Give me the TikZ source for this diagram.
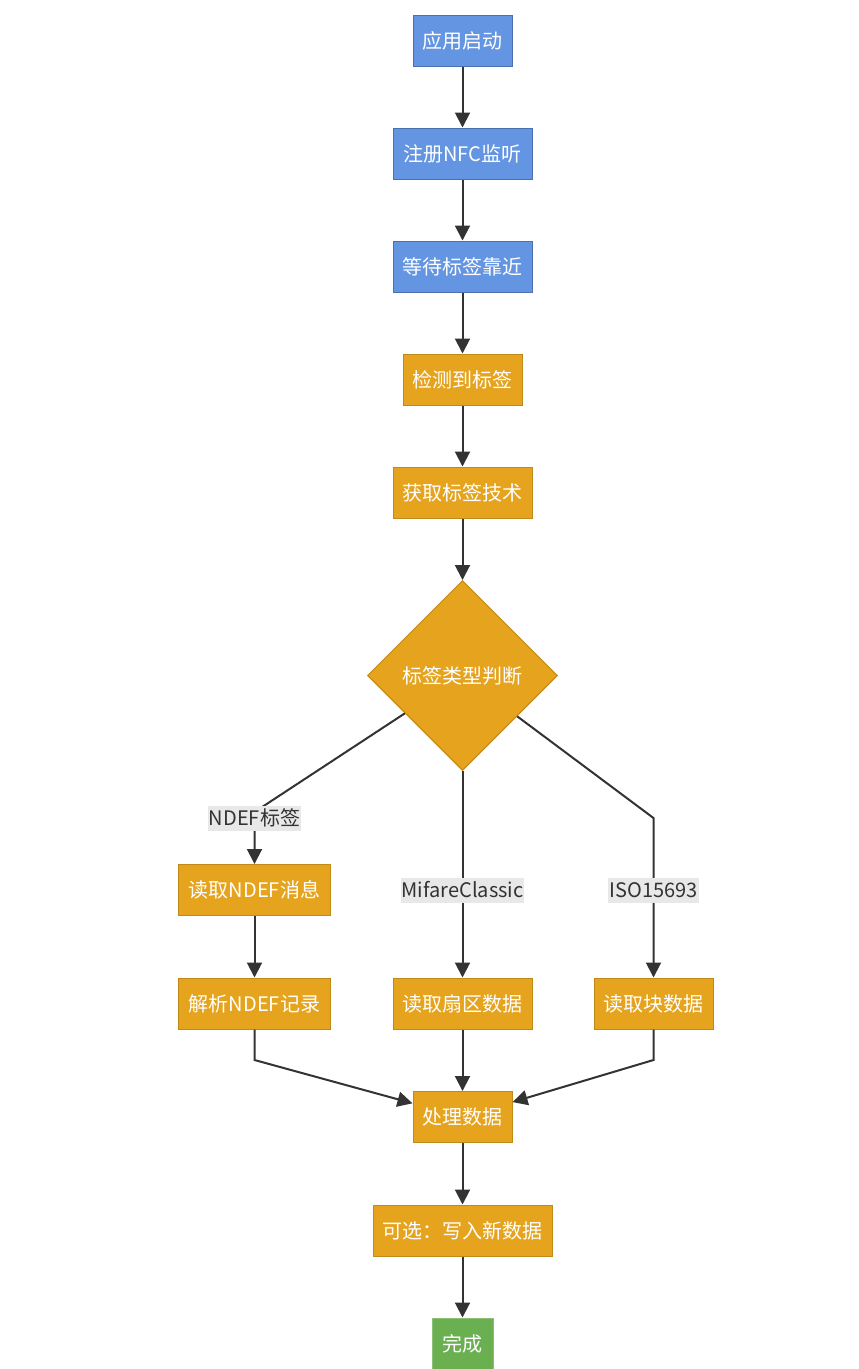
\documentclass[tikz,border=0pt]{standalone}
\usepackage{fontspec}
\setmainfont{Noto Sans CJK SC}
\usetikzlibrary{shapes.geometric,arrows.meta}
\definecolor{bluefill}{HTML}{6495E2}
\definecolor{blueline}{HTML}{4A70B0}
\definecolor{orangefill}{HTML}{E5A31E}
\definecolor{orangeline}{HTML}{BF8A1A}
\definecolor{greenfill}{HTML}{6AAF50}
\definecolor{greenline}{HTML}{8CC078}
\definecolor{edgegray}{HTML}{333333}
\definecolor{labelgray}{HTML}{E8E8E8}
\tikzset{
	box/.style={draw, line width=1pt, text=white, minimum height=51pt, inner sep=0pt,
		font=\fontsize{20}{20}\selectfont},
	bluebox/.style={box, fill=bluefill, draw=blueline},
	orangebox/.style={box, fill=orangefill, draw=orangeline},
	greenbox/.style={box, fill=greenfill, draw=greenline},
	choice/.style={diamond, aspect=1, fill=orangefill, draw=orangeline, line width=1pt,
		text=white, minimum width=190pt, minimum height=190pt, inner sep=0pt,
		font=\fontsize{20}{20}\selectfont},
	lbl/.style={fill=labelgray, text=edgegray, inner sep=1pt, minimum height=25pt,
		font=\fontsize{20}{20}\selectfont},
	arr/.style={draw=edgegray, line width=2pt, -{Triangle[length=15pt,width=15pt]}},
}

\begin{document}
\begin{tikzpicture}[x=1pt,y=-1pt]
\useasboundingbox (0,0) rectangle (859,1369);
% main column
\node[bluebox, minimum width=99pt] (start) at (462.5,40.5) {应用启动};
\node[bluebox, minimum width=139pt] (register) at (462.5,153.5) {注册NFC监听};
\node[bluebox, minimum width=139pt] (wait) at (462.5,266.5) {等待标签靠近};
\node[orangebox, minimum width=119pt] (detect) at (462.5,379.5) {检测到标签};
\node[orangebox, minimum width=139pt] (tech) at (462.5,492.5) {获取标签技术};
\node[choice] (judge) at (462.5,675.5) {标签类型判断};
% branches
\node[orangebox, minimum width=152pt] (ndefmsg) at (254.5,890) {读取NDEF消息};
\node[orangebox, minimum width=152pt] (ndefrec) at (254.5,1003.5) {解析NDEF记录};
\node[orangebox, minimum width=139pt] (sector) at (462.5,1003.5) {读取扇区数据};
\node[orangebox, minimum width=119pt] (block) at (653.5,1003.5) {读取块数据};
% bottom
\node[orangebox, minimum width=99pt] (proc) at (462.5,1117) {处理数据};
\node[orangebox, minimum width=179pt] (write) at (462.5,1230.5) {可选：写入新数据};
\node[greenbox, minimum width=61pt] (done) at (462.5,1343.5) {完成};
\coordinate (bendL) at (254.5,812);
\coordinate (bendR) at (653.5,818);
\coordinate (mergeL) at (254.5,1060);
\coordinate (mergeR) at (653.5,1060);
\draw[arr] (start) -- (register);
\draw[arr] (register) -- (wait);
\draw[arr] (wait) -- (detect);
\draw[arr] (detect) -- (tech);
\draw[arr] (tech) -- (judge);
\draw[arr] (judge) -- (bendL) -- (ndefmsg);
\draw[arr] (judge) -- (sector);
\draw[arr] (judge) -- (bendR) -- (block);
\draw[arr] (ndefmsg) -- (ndefrec);
\draw[arr] (ndefrec) -- (mergeL) -- (proc);
\draw[arr] (sector) -- (proc);
\draw[arr] (block) -- (mergeR) -- (proc);
\draw[arr] (proc) -- (write);
\draw[arr] (write) -- (done);
% edge labels
\node[lbl] (lndef) at (254.5,818) {NDEF标签};
\node[lbl] (lmifare) at (462.5,890) {MifareClassic};
\node[lbl] (liso) at (653.5,890) {ISO15693};
\end{tikzpicture}
\end{document}
